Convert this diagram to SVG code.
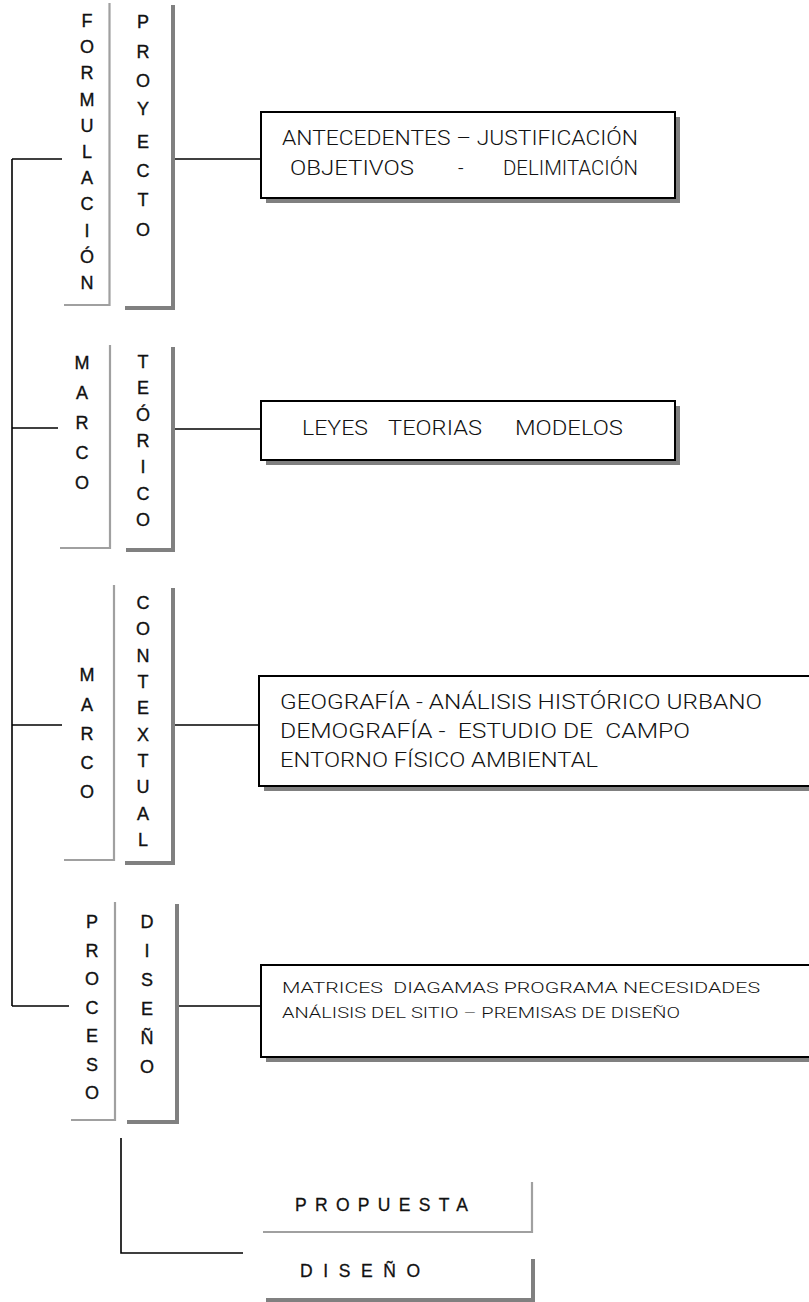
<svg xmlns="http://www.w3.org/2000/svg" width="809" height="1302" viewBox="0 0 809 1302">
<style>
.bg{fill:#ffffff}
.conn{stroke:#000;stroke-width:1.6;fill:none}
.lt{stroke:#a0a0a0;stroke-width:2.2;fill:none}
.dk{stroke:#808080;stroke-width:4;fill:none}
.box{fill:#fff;stroke:#000;stroke-width:2}
.shadow{fill:#808080}
.v{font-family:"Liberation Sans",Arial,sans-serif;font-size:18px;fill:#111;stroke:#111;stroke-width:0.35;text-anchor:middle}
.t{font-family:Roboto,"Liberation Sans",Arial,sans-serif;font-weight:300;font-size:19.5px;fill:#111;white-space:pre}
.s{font-family:Roboto,"Liberation Sans",Arial,sans-serif;font-weight:300;font-size:15.5px;fill:#111;white-space:pre}
.sp{font-family:"Liberation Sans",Arial,sans-serif;font-size:17.5px;fill:#111;stroke:#111;stroke-width:0.3}
</style>
<rect class="bg" x="0" y="0" width="809" height="1302"/>

<g id="connectors">
  <path class="conn" d="M12 159 V1006"/>
  <path class="conn" d="M12 159 H62"/>
  <path class="conn" d="M12 428 H58"/>
  <path class="conn" d="M12 725 H62"/>
  <path class="conn" d="M12 1006 H69"/>
  <path class="conn" d="M172 159 H261"/>
  <path class="conn" d="M173 429 H261"/>
  <path class="conn" d="M173 725 H259"/>
  <path class="conn" d="M177 1006 H261"/>
  <path class="conn" d="M121 1138 V1253 H243"/>
</g>

<g id="formulacion">
  <path class="lt" d="M109.5 3 V305 H64"/>
  <text class="v" x="87" y="27">F</text>
  <text class="v" x="87" y="53">O</text>
  <text class="v" x="87" y="79">R</text>
  <text class="v" x="87" y="106">M</text>
  <text class="v" x="87" y="132">U</text>
  <text class="v" x="87" y="158">L</text>
  <text class="v" x="87" y="184">A</text>
  <text class="v" x="87" y="210">C</text>
  <text class="v" x="87" y="237">I</text>
  <text class="v" x="87" y="263">Ó</text>
  <text class="v" x="87" y="289">N</text>
</g>
<g id="proyecto">
  <path class="dk" d="M173 5 V308 H125"/>
  <text class="v" x="143" y="28">P</text>
  <text class="v" x="143" y="58">R</text>
  <text class="v" x="143" y="87">O</text>
  <text class="v" x="143" y="115">Y</text>
  <text class="v" x="143" y="148">E</text>
  <text class="v" x="143" y="177">C</text>
  <text class="v" x="143" y="206">T</text>
  <text class="v" x="143" y="236">O</text>
</g>
<g id="box-antecedentes">
  <rect class="shadow" x="266" y="117" width="414" height="86"/>
  <rect class="box" x="261" y="112" width="414" height="86"/>
  <text class="t" x="282" y="145" textLength="356" lengthAdjust="spacingAndGlyphs">ANTECEDENTES – JUSTIFICACIÓN</text>
  <text class="t" x="290" y="175" textLength="124" lengthAdjust="spacingAndGlyphs">OBJETIVOS</text>
  <text class="t" x="458" y="175">-</text>
  <text class="t" x="503" y="175" textLength="135" lengthAdjust="spacingAndGlyphs">DELIMITACIÓN</text>
</g>

<g id="marco-teorico-1">
  <path class="lt" d="M110 345 V548 H60"/>
  <text class="v" x="82" y="369">M</text>
  <text class="v" x="82" y="399">A</text>
  <text class="v" x="82" y="429">R</text>
  <text class="v" x="82" y="459">C</text>
  <text class="v" x="82" y="489">O</text>
</g>
<g id="teorico">
  <path class="dk" d="M173 347 V550 H126"/>
  <text class="v" x="143" y="368">T</text>
  <text class="v" x="143" y="394">E</text>
  <text class="v" x="143" y="421">Ó</text>
  <text class="v" x="143" y="447">R</text>
  <text class="v" x="143" y="473">I</text>
  <text class="v" x="143" y="500">C</text>
  <text class="v" x="143" y="526">O</text>
</g>
<g id="box-leyes">
  <rect class="shadow" x="266" y="406" width="414" height="59"/>
  <rect class="box" x="261" y="401" width="414" height="59"/>
  <text class="t" x="302" y="435" textLength="66" lengthAdjust="spacingAndGlyphs">LEYES</text>
  <text class="t" x="388" y="435" textLength="94" lengthAdjust="spacingAndGlyphs">TEORIAS</text>
  <text class="t" x="515" y="435" textLength="108" lengthAdjust="spacingAndGlyphs">MODELOS</text>
</g>

<g id="marco-contextual-1">
  <path class="lt" d="M114 585 V860 H64"/>
  <text class="v" x="87" y="681">M</text>
  <text class="v" x="87" y="711">A</text>
  <text class="v" x="87" y="740">R</text>
  <text class="v" x="87" y="769">C</text>
  <text class="v" x="87" y="798">O</text>
</g>
<g id="contextual">
  <path class="dk" d="M173 588 V863 H125"/>
  <text class="v" x="143" y="609">C</text>
  <text class="v" x="143" y="635">O</text>
  <text class="v" x="143" y="662">N</text>
  <text class="v" x="143" y="688">T</text>
  <text class="v" x="143" y="714">E</text>
  <text class="v" x="143" y="741">X</text>
  <text class="v" x="143" y="767">T</text>
  <text class="v" x="143" y="793">U</text>
  <text class="v" x="143" y="820">A</text>
  <text class="v" x="143" y="846">L</text>
</g>
<g id="box-geografia">
  <rect class="shadow" x="264" y="681" width="560" height="110"/>
  <rect class="box" x="259" y="676" width="560" height="110"/>
  <text class="t" x="280" y="709" textLength="482" lengthAdjust="spacingAndGlyphs">GEOGRAFÍA - ANÁLISIS HISTÓRICO URBANO</text>
  <text class="t" x="280" y="738" textLength="410" lengthAdjust="spacingAndGlyphs">DEMOGRAFÍA -  ESTUDIO DE  CAMPO</text>
  <text class="t" x="280" y="767" textLength="318" lengthAdjust="spacingAndGlyphs">ENTORNO FÍSICO AMBIENTAL</text>
</g>

<g id="proceso">
  <path class="lt" d="M115 902 V1120 H71"/>
  <text class="v" x="92" y="928">P</text>
  <text class="v" x="92" y="957">R</text>
  <text class="v" x="92" y="985">O</text>
  <text class="v" x="92" y="1014">C</text>
  <text class="v" x="92" y="1042">E</text>
  <text class="v" x="92" y="1071">S</text>
  <text class="v" x="92" y="1099">O</text>
</g>
<g id="diseno-col">
  <path class="dk" d="M177 904 V1122 H127"/>
  <text class="v" x="147" y="928">D</text>
  <text class="v" x="147" y="957">I</text>
  <text class="v" x="147" y="986">S</text>
  <text class="v" x="147" y="1015">E</text>
  <text class="v" x="147" y="1044">Ñ</text>
  <text class="v" x="147" y="1073">O</text>
</g>
<g id="box-matrices">
  <rect class="shadow" x="266" y="970" width="560" height="92"/>
  <rect class="box" x="261" y="965" width="560" height="92"/>
  <text class="s" x="282" y="993" textLength="478" lengthAdjust="spacingAndGlyphs">MATRICES  DIAGAMAS PROGRAMA NECESIDADES</text>
  <text class="s" x="282" y="1018" textLength="398" lengthAdjust="spacingAndGlyphs">ANÁLISIS DEL SITIO – PREMISAS DE DISEÑO</text>
</g>

<g id="propuesta">
  <path class="lt" d="M532 1182 V1232 H263"/>
  <text class="sp" x="295" y="1211" textLength="173" lengthAdjust="spacing">PROPUESTA</text>
</g>
<g id="diseno">
  <path class="dk" d="M533 1259 V1300 H266"/>
  <text class="sp" x="300" y="1277" textLength="120" lengthAdjust="spacing">DISEÑO</text>
</g>
</svg>
